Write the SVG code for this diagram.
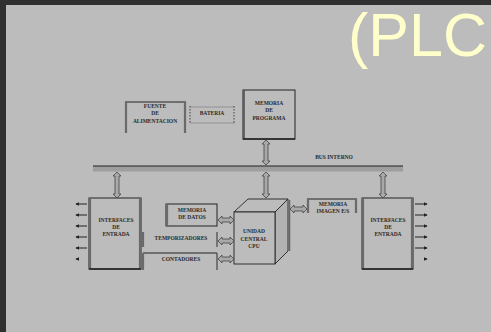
<svg xmlns="http://www.w3.org/2000/svg" width="491" height="332" viewBox="0 0 491 332">
<defs>
<style>
.t{font-family:"Liberation Serif","Times New Roman",serif;font-size:5.5px;font-weight:bold;fill:#2a2a2a;text-anchor:middle}
.box{fill:none;stroke:#222;stroke-width:1}
.side{stroke:#6a6a6a;stroke-width:2.2;fill:none}
.dar{fill:#a9a9a9;stroke:#444;stroke-width:0.8}
.io{stroke:#222;stroke-width:1;fill:none}
</style>
<marker id="ah" viewBox="0 0 6 6" refX="5" refY="3" markerWidth="4" markerHeight="4" orient="auto-start-reverse">
<path d="M0,0 L6,3 L0,6 z" fill="#222"/>
</marker>
</defs>
<rect x="0" y="0" width="491" height="332" fill="#303030"/>
<rect x="6" y="5" width="485" height="327" fill="#bcbcbc"/>
<text x="348" y="56" font-family="Liberation Sans, Arial, sans-serif" font-size="61" fill="#ffffcc">(PLC</text>

<g id="bus">
<rect x="93" y="166" width="310" height="5.5" fill="#9e9e9e"/>
<line x1="93" y1="166" x2="403" y2="166" stroke="#222" stroke-width="1"/>
<text class="t" x="334" y="159">BUS INTERNO</text>
</g>

<g id="fuente">
<line x1="125" y1="102" x2="186" y2="102" stroke="#222" stroke-width="1"/>
<line class="side" x1="126" y1="102" x2="126" y2="133"/>
<line class="side" x1="185" y1="102" x2="185" y2="133"/>
<text class="t" x="155" y="108">FUENTE</text>
<text class="t" x="155" y="115">DE</text>
<text class="t" x="155" y="123">ALIMENTACION</text>
</g>

<g id="bateria">
<line x1="190" y1="107" x2="235" y2="107" stroke="#888" stroke-width="0.8"/>
<line x1="190" y1="123" x2="235" y2="123" stroke="#888" stroke-width="0.8"/>
<line x1="190" y1="106" x2="190" y2="124" stroke="#666" stroke-width="1.4" stroke-dasharray="1.5,1.5"/>
<line x1="234" y1="106" x2="234" y2="124" stroke="#666" stroke-width="1.4" stroke-dasharray="1.5,1.5"/>
<text class="t" x="212" y="115">BATERIA</text>
</g>

<g id="memoria-programa">
<rect x="243" y="90" width="52" height="49" fill="none" stroke="#222" stroke-width="1"/>
<line x1="244" y1="90" x2="244" y2="139" stroke="#555" stroke-width="1.6"/>
<line x1="243" y1="139" x2="295" y2="139" stroke="#222" stroke-width="1.4"/>
<text class="t" x="269" y="105">MEMORIA</text>
<text class="t" x="269" y="112">DE</text>
<text class="t" x="269" y="120">PROGRAMA</text>
</g>

<g id="interfaces-izq">
<rect x="89" y="198" width="52" height="71" fill="none" stroke="#222" stroke-width="1"/>
<line class="side" x1="90" y1="198" x2="90" y2="269"/>
<line class="side" x1="140" y1="198" x2="140" y2="269"/>
<line x1="89" y1="269" x2="141" y2="269" stroke="#222" stroke-width="1.5"/>
<text class="t" x="116" y="222">INTERFACES</text>
<text class="t" x="116" y="229">DE</text>
<text class="t" x="116" y="236">ENTRADA</text>
</g>

<g id="interfaces-der">
<rect x="362" y="198" width="51" height="71" fill="none" stroke="#222" stroke-width="1"/>
<line class="side" x1="363" y1="198" x2="363" y2="269"/>
<line class="side" x1="412" y1="198" x2="412" y2="269"/>
<line x1="362" y1="269" x2="413" y2="269" stroke="#222" stroke-width="1.5"/>
<text class="t" x="388" y="222">INTERFACES</text>
<text class="t" x="388" y="229">DE</text>
<text class="t" x="388" y="236">ENTRADA</text>
</g>

<g id="memoria-datos">
<rect x="166" y="204" width="51" height="22" fill="none" stroke="#222" stroke-width="1"/>
<line class="side" x1="167" y1="204" x2="167" y2="226"/>
<text class="t" x="192" y="212">MEMORIA</text>
<text class="t" x="192" y="219">DE DATOS</text>
</g>

<g id="temporizadores">
<line class="side" x1="143" y1="232" x2="143" y2="247"/>
<line x1="217" y1="232" x2="217" y2="247" stroke="#555" stroke-width="1.4"/>
<text class="t" x="181" y="240">TEMPORIZADORES</text>
</g>

<g id="contadores">
<line x1="143" y1="253" x2="217" y2="253" stroke="#222" stroke-width="1"/>
<line class="side" x1="143" y1="253" x2="143" y2="270"/>
<line x1="217" y1="253" x2="217" y2="270" stroke="#555" stroke-width="1.4"/>
<text class="t" x="181" y="261">CONTADORES</text>
</g>

<g id="cpu">
<polygon points="234,212 248,199 288,199 275,212" fill="#bcbcbc" stroke="#222" stroke-width="0.9"/>
<polygon points="275,212 288,199 288,251 275,264" fill="#b2b2b2" stroke="#222" stroke-width="0.9"/>
<rect x="234" y="212" width="41" height="52" fill="#bcbcbc" stroke="#222" stroke-width="0.9"/>
<line x1="289.5" y1="200" x2="289.5" y2="251" stroke="#666" stroke-width="1.5"/>
<text class="t" x="254" y="233">UNIDAD</text>
<text class="t" x="254" y="241">CENTRAL</text>
<text class="t" x="254" y="248">CPU</text>
</g>

<g id="memoria-imagen">
<line x1="307" y1="199" x2="357" y2="199" stroke="#222" stroke-width="1"/>
<line class="side" x1="308" y1="199" x2="308" y2="213"/>
<line class="side" x1="356" y1="199" x2="356" y2="213"/>
<text class="t" x="333" y="206">MEMORIA</text>
<text class="t" x="333" y="213">IMAGEN E/S</text>
</g>

<g id="connectors">
<polygon class="dar" points="266,140 270,144 268,144 268,161 270,161 266,165 262,161 264,161 264,144 262,144"/>
<polygon class="dar" points="117,172 121,176 119,176 119,194 121,194 117,198 113,194 115,194 115,176 113,176"/>
<polygon class="dar" points="266,172 270,176 268,176 268,194 270,194 266,198 262,194 264,194 264,176 262,176"/>
<polygon class="dar" points="383,172 387,176 385,176 385,194 387,194 383,198 379,194 381,194 381,176 379,176"/>
<polygon class="dar" points="218,220 222,216 222,218 230,218 230,216 234,220 230,224 230,222 222,222 222,224"/>
<polygon class="dar" points="218,241 222,237 222,239 230,239 230,237 234,241 230,245 230,243 222,243 222,245"/>
<polygon class="dar" points="218,259 222,255 222,257 230,257 230,255 234,259 230,263 230,261 222,261 222,263"/>
<polygon class="dar" points="290,209 294,205 294,207 303,207 303,205 307,209 303,213 303,211 294,211 294,213"/>
<line class="io" x1="87" y1="204" x2="76" y2="204" marker-end="url(#ah)"/>
<line class="io" x1="87" y1="215" x2="76" y2="215" marker-end="url(#ah)"/>
<line class="io" x1="87" y1="226" x2="76" y2="226" marker-end="url(#ah)"/>
<line class="io" x1="87" y1="237" x2="76" y2="237" marker-end="url(#ah)"/>
<line class="io" x1="87" y1="248" x2="76" y2="248" marker-end="url(#ah)"/>
<line class="io" x1="79" y1="259" x2="76" y2="259" marker-end="url(#ah)"/>
<line class="io" x1="415" y1="204" x2="427" y2="204" marker-end="url(#ah)"/>
<line class="io" x1="415" y1="215" x2="427" y2="215" marker-end="url(#ah)"/>
<line class="io" x1="415" y1="226" x2="427" y2="226" marker-end="url(#ah)"/>
<line class="io" x1="415" y1="237" x2="427" y2="237" marker-end="url(#ah)"/>
<line class="io" x1="415" y1="248" x2="427" y2="248" marker-end="url(#ah)"/>
<line class="io" x1="424" y1="259" x2="427" y2="259" marker-end="url(#ah)"/>
</g>
</svg>
